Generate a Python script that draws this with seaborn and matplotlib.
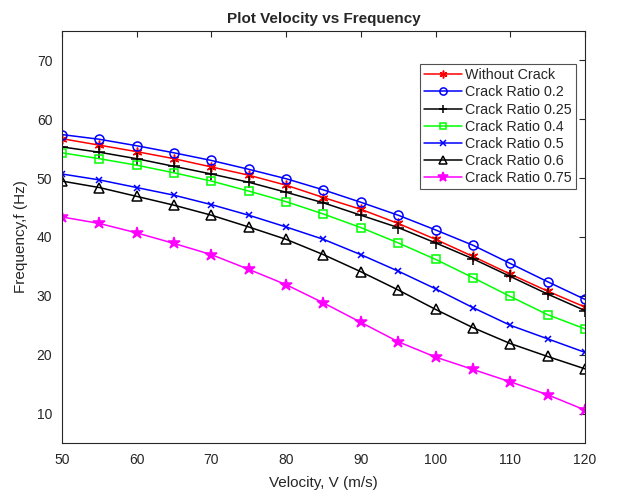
import numpy as np
import pandas as pd
import matplotlib
matplotlib.use("Agg")
import matplotlib.pyplot as plt
import seaborn as sns

velocity = [50, 55, 60, 65, 70, 75, 80, 85, 90, 95, 100, 105, 110, 115, 120]

without_crack = [56.7, 55.6, 54.5, 53.3, 51.9, 50.5, 48.8, 46.7, 44.7, 42.3, 39.6, 36.7, 33.7, 30.8, 28.1]
ratio_02 = [57.4, 56.6, 55.5, 54.3, 53.0, 51.5, 49.9, 48.0, 45.9, 43.7, 41.2, 38.6, 35.5, 32.4, 29.4]
ratio_025 = [55.3, 54.4, 53.3, 52.0, 50.7, 49.3, 47.6, 45.8, 43.7, 41.6, 39.0, 36.3, 33.3, 30.3, 27.5]
ratio_04 = [54.3, 53.3, 52.2, 50.9, 49.5, 47.8, 46.0, 43.9, 41.6, 39.0, 36.2, 33.1, 29.9, 26.8, 24.4]
ratio_05 = [50.7, 49.7, 48.4, 47.1, 45.5, 43.7, 41.7, 39.6, 37.0, 34.2, 31.2, 28.0, 25.0, 22.7, 20.4]
ratio_06 = [49.5, 48.4, 46.9, 45.4, 43.7, 41.7, 39.6, 37.0, 34.1, 31.0, 27.7, 24.6, 21.9, 19.7, 17.6]
ratio_075 = [43.4, 42.3, 40.7, 38.9, 37.0, 34.5, 31.9, 28.8, 25.5, 22.2, 19.6, 17.5, 15.4, 13.2, 10.6]

labels = ["Without Crack", "Crack Ratio 0.2", "Crack Ratio 0.25", "Crack Ratio 0.4",
          "Crack Ratio 0.5", "Crack Ratio 0.6", "Crack Ratio 0.75"]
series = [without_crack, ratio_02, ratio_025, ratio_04, ratio_05, ratio_06, ratio_075]
colors = ["#ff0000", "#0000ff", "#000000", "#00ff00", "#0000ff", "#000000", "#ff00ff"]
# red uses a MATLAB-like asterisk, magenta a filled pentagram
markers = [(6, 2, 0), "o", "+", "s", "x", "^", "*"]
msizes = [7, 6.5, 8, 5.5, 5, 7, 9]

sns.set_style("white")
plt.rcParams["font.family"] = ["Liberation Sans", "DejaVu Sans"]

fig = plt.figure(figsize=(6.17, 4.98), dpi=100)
ax = fig.add_axes([0.1005, 0.1104, 0.8476, 0.8274])

for vals, lab, c, m, ms in zip(series, labels, colors, markers, msizes):
    df = pd.DataFrame({"v": velocity, "f": vals})
    hollow = isinstance(m, str) and m in ("o", "s", "^")
    sns.lineplot(data=df, x="v", y="f", ax=ax, color=c, marker=m, markersize=ms,
                 markerfacecolor="none" if hollow else c,
                 markeredgecolor=c, markeredgewidth=1.1, linewidth=1.1, label=lab)

ax.set_xlim(50, 120)
ax.set_ylim(5, 75)
ax.set_xticks(range(50, 121, 10))
ax.set_yticks(range(10, 71, 10))
ax.tick_params(direction="in", length=4, colors="#262626", labelsize=10,
               top=True, right=True, labelcolor="#262626", pad=7)
for s in ax.spines.values():
    s.set_color("#262626")
    s.set_linewidth(0.8)
    s.set_visible(True)

ax.set_title("Plot Velocity vs Frequency", fontsize=11, fontweight="bold")
ax.set_xlabel("Velocity, V (m/s)", fontsize=11, color="#262626", labelpad=7)
ax.set_ylabel("Frequency,f (Hz)", fontsize=11, color="#262626", labelpad=6)

leg = ax.legend(loc="upper right", bbox_to_anchor=(0.983, 0.92), fontsize=10.3,
                frameon=True, fancybox=False, edgecolor="#262626",
                handlelength=2.6, borderpad=0.3, labelspacing=0.22,
                handletextpad=0.25, borderaxespad=0, markerscale=0.8)
leg.get_frame().set_linewidth(0.8)

fig.savefig("out.png", dpi=100, facecolor="white")
